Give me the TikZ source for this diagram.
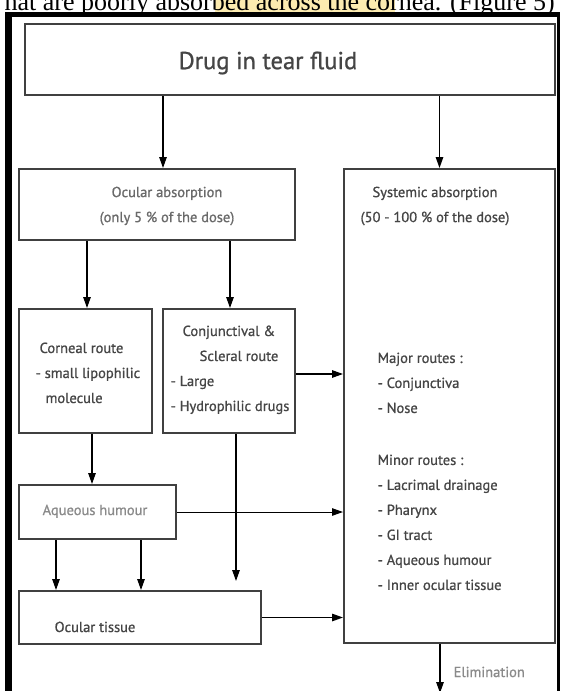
\documentclass[tikz,border=0pt]{standalone}
\usepackage{fontspec}
\setmainfont{Liberation Serif}
\newfontfamily\chartfont[FakeBold=0.9]{PT Sans}
\usetikzlibrary{arrows.meta}
\definecolor{boxgray}{HTML}{404040}
\definecolor{darktxt}{HTML}{454545}
\definecolor{midtxt}{HTML}{6A6A6A}
\definecolor{paletxt}{HTML}{8A8A8A}
\definecolor{markyellow}{HTML}{FCEBB0}

\begin{document}
\begin{tikzpicture}[x=1pt,y=-1pt,->,>={Triangle[length=11pt,width=7.5pt]},line width=1.3pt,
  flow box/.style={draw=boxgray,line width=2pt,inner sep=0pt},
  flow text/.style={inner sep=0pt,align=left,text=darktxt,
    font=\chartfont\fontsize{14.5}{25}\selectfont}]

  \clip (0,0) rectangle (560,691);
  \fill[white] (0,0) rectangle (560,691);
  \fill[markyellow] (215,0) rectangle (395,12);
  \node[anchor=base west,inner sep=0pt,font=\fontsize{26}{26}\selectfont] (cite) at (4,10)
    {hat are poorly absorbed across the cornea. (Figure 5)};

  % frame of the figure
  \fill[black] (5,12) rectangle (560,17);
  \fill[black] (5,12) rectangle (12,691);
  \fill[black] (557,12) rectangle (560,691);

  % boxes
  \node[flow box,minimum width=530pt,minimum height=71pt] (tear) at (290,59.5) {};
  \node[flow box,minimum width=276pt,minimum height=71pt] (ocabs) at (157,204.5) {};
  \node[flow box,minimum width=211pt,minimum height=474pt] (sys) at (449.5,406) {};
  \node[flow box,minimum width=133pt,minimum height=124pt] (corn) at (85.5,371) {};
  \node[flow box,minimum width=132pt,minimum height=124pt] (conj) at (229,371) {};
  \node[flow box,minimum width=157pt,minimum height=54pt] (aq) at (97.5,512) {};
  \node[flow box,minimum width=242pt,minimum height=53pt] (tis) at (140,617.5) {};

  % texts
  \node[flow text,font=\chartfont\fontsize{24.5}{25}\selectfont] (teartxt) at (268,63) {Drug in tear fluid};
  \node[flow text,align=center,text=midtxt] (ocabstxt) at (167,206)
    {Ocular absorption\\ (only 5 \% of the dose)};
  \node[flow text,align=center] (systxt) at (435,206)
    {Systemic absorption\\ (50 - 100 \% of the dose)};
  \node[flow text,anchor=north west] (cornlist) at (35,342)
    {\hspace{4pt}Corneal route\\ - small lipophilic\\ \hspace{10pt}molecule};
  \node[flow text,anchor=north west] (conjlist) at (170,325)
    {\hspace{12pt}Conjunctival \&\\ \hspace{29pt}Scleral route\\ - Large\\ - Hydrophilic drugs};
  \node[flow text,anchor=north west] (syslist) at (377,352)
    {Major routes :\\ - Conjunctiva\\ - Nose\\[27pt]
     Minor routes :\\ - Lacrimal drainage\\ - Pharynx\\ - GI tract\\
     - Aqueous humour\\ - Inner ocular tissue};
  \node[flow text,anchor=base west,text=paletxt] (aqtxt) at (42,515) {Aqueous humour};
  \node[flow text,anchor=base west] (tistxt) at (54,632) {Ocular tissue};
  \node[flow text,anchor=base west,text=paletxt] (elimtxt) at (453,677) {Elimination};
  \coordinate (elim) at (440,693);

  \path
    ([xshift=6pt]ocabs.north |- tear.south) edge ([xshift=6pt]ocabs.north)
    ([xshift=-10pt]sys.north |- tear.south) edge ([xshift=-10pt]sys.north)
    ([xshift=1.5pt]corn.north |- ocabs.south) edge ([xshift=1.5pt]corn.north)
    ([xshift=1pt]conj.north |- ocabs.south) edge ([xshift=1pt]conj.north)
    ([xshift=6.5pt]corn.south) edge ([xshift=6.5pt]corn.south |- aq.north)
    ([yshift=-3pt]conj.east) edge ([yshift=-3pt]conj.east -| sys.west)
    ([xshift=7pt]conj.south) edge[shorten >=9pt] ([xshift=7pt]conj.south |- tis.north)
    ([xshift=-41.5pt]aq.south) edge ([xshift=-41.5pt]aq.south |- tis.north)
    ([xshift=43.5pt]aq.south) edge ([xshift=43.5pt]aq.south |- tis.north)
    (aq.east) edge[line width=1pt] (aq.east -| sys.west)
    (tis.east) edge (tis.east -| sys.west)
    (sys.south -| elim) edge (elim)
    ;
\end{tikzpicture}
\end{document}
